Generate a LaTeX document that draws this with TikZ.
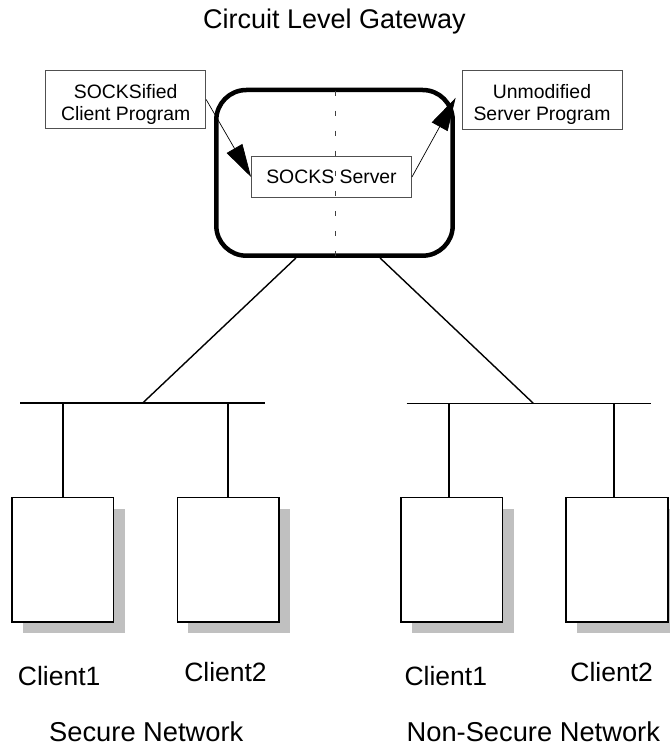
\documentclass[tikz,border=0pt]{standalone}
\usepackage{fontspec}
\setmainfont{Liberation Sans}
\usetikzlibrary{arrows.meta,calc,shadows}
\definecolor{shadowgray}{RGB}{192,192,192}
\definecolor{boxline}{RGB}{80,80,80}
\begin{document}
\begin{tikzpicture}[x=1pt,y=-1pt,
  titletext/.style={inner sep=0pt, anchor=base, font=\fontsize{27}{32}\selectfont},
  nettext/.style={inner sep=0pt, anchor=base, font=\fontsize{27.3}{32}\selectfont},
  clienttext/.style={inner sep=0pt, anchor=base, font=\fontsize{26.5}{31}\selectfont},
  progbox/.style={draw=boxline, line width=0.9pt, minimum width=160pt, minimum height=58.5pt, inner sep=0pt},
  boxtext/.style={inner sep=0pt, anchor=base, font=\fontsize{19.4}{22.7}\selectfont},
  clientbox/.style={draw=black, line width=1.4pt, fill=white, minimum width=101.7pt, minimum height=124.3pt, inner sep=0pt,
    drop shadow={shadow xshift=11pt, shadow yshift=-11pt, fill=shadowgray, opacity=1}},
  wire/.style={line width=1.4pt},
  thinarrow/.style={line width=0.7pt, -{Triangle[length=33pt,width=18pt]}}
]
\useasboundingbox (0,0) rectangle (669,746);

\node[titletext] (title) at (334.5,28.3) {Circuit Level Gateway};

% gateway
\node[draw, line width=4.5pt, rounded corners=30pt, minimum width=236.4pt, minimum height=165.7pt, inner sep=0pt] (gw) at (334.5,172.85) {};
\node[progbox, minimum height=40.6pt, font=\fontsize{19.4}{22.7}\selectfont] (ss) at (331.5,177) {SOCKS Server};
\draw[black!75, line width=0.9pt, dash pattern=on 5pt off 15pt, dash phase=17pt] ($(gw.north)+(1.2,0)$) -- ($(gw.south)+(1.2,0)$);

% program boxes
\node[progbox] (cp) at (125.7,99.5) {};
\node[boxtext] (cpt) at (125.7,98.3) {\begin{tabular}[t]{@{}c@{}}SOCKSified\\Client Program\end{tabular}};
\node[progbox, minimum width=160.3pt, minimum height=58.3pt] (um) at (542.2,99.85) {};
\node[boxtext] (umt) at (542,98.3) {\begin{tabular}[t]{@{}c@{}}Unmodified\\Server Program\end{tabular}};

\draw[thinarrow] (cp.east) -- (ss.west);
\draw[thinarrow] (ss.east) -- ($(um.west)+(-6,-2)$);

% networks
\coordinate (lb1) at (20,403);
\coordinate (lb2) at (264.7,403);
\coordinate (rb1) at (406.7,403.3);
\coordinate (rb2) at (651,403.3);
\coordinate (lj) at (142.7,403);
\coordinate (rj) at (533.3,403.3);
\draw[wire] (lb1) -- (lb2);
\draw[wire] (rb1) -- (rb2);
\draw[wire] ($(gw.south west)!0.34!(gw.south east)$) -- (lj);
\draw[wire] ($(gw.south west)!0.689!(gw.south east)$) -- (rj);

\node[clientbox] (c1) at (62.85,559.85) {};
\node[clientbox] (c2) at (228.15,559.85) {};
\node[clientbox] (c3) at (451.85,559.85) {};
\node[clientbox] (c4) at (617,559.85) {};

\coordinate (d3) at ($(c3.north)+(-3,0)$);
\coordinate (d4) at ($(c4.north)+(-3,0)$);
\draw[wire] (c1.north) -- (c1.north |- lb1);
\draw[wire] (c2.north) -- (c2.north |- lb1);
\draw[wire] (d3) -- (d3 |- rb1);
\draw[wire] (d4) -- (d4 |- rb1);

\node[clienttext] (l1) at (59.2,685) {Client1};
\node[clienttext] (l2) at (225.5,681.7) {Client2};
\node[clienttext] (l3) at (445.8,685) {Client1};
\node[clienttext] (l4) at (611.7,681.7) {Client2};

\node[nettext] (n1) at (146.3,741.7) {Secure Network};
\node[nettext] (n2) at (533.3,741.7) {Non-Secure Network};
\end{tikzpicture}
\end{document}
